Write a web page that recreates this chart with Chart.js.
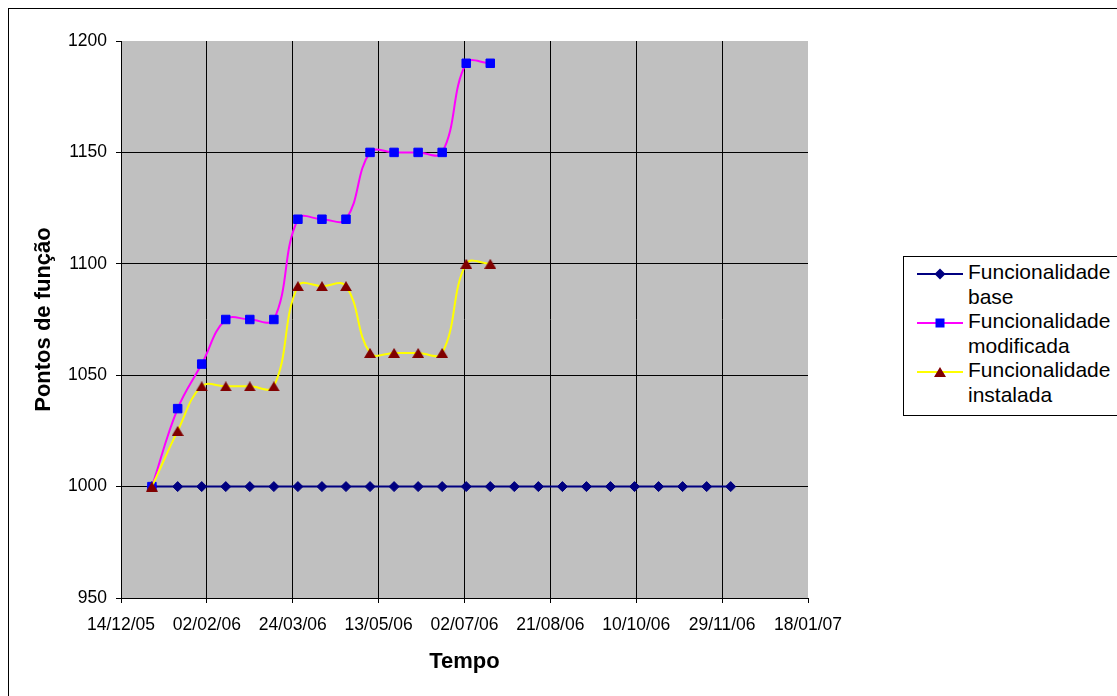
<!DOCTYPE html>
<html>
<head>
<meta charset="utf-8">
<title>Pontos de função</title>
<script src="https://cdn.jsdelivr.net/npm/chart.js@4.4.1/dist/chart.umd.min.js"></script>
<style>
  html, body { margin: 0; padding: 0; background: #fff; overflow: hidden; }
  #wrap { position: relative; width: 1117px; height: 696px; overflow: hidden; }
  #frame { position: absolute; left: 8px; top: 8px; width: 1200px; height: 760px; border: 1px solid #000; }
  #chart { position: absolute; left: 0; top: 0; }
  #legend { position: absolute; left: 903px; top: 256px; width: 300px; height: 158px;
            border: 1px solid #000; background: #fff;
            font-family: "Liberation Sans", Arial, sans-serif; font-size: 21px; color: #000; }
  #legend .item { position: absolute; left: 0; width: 300px; height: 49px; }
  #legend svg { position: absolute; left: 12px; top: 4px; }
  #legend .txt { position: absolute; left: 64px; top: 0; width: 148px; line-height: 24.5px; }
</style>
</head>
<body>
<div id="wrap">
  <div id="frame"></div>
  <canvas id="chart" width="1117" height="696"></canvas>
  <div id="legend"></div>
</div>
<script>
// Measurement dates (dd/mm/yy)
const dates = ['01/01/06', '16/01/06', '30/01/06', '13/02/06', '27/02/06', '13/03/06', '27/03/06',
               '10/04/06', '24/04/06', '08/05/06', '22/05/06', '05/06/06', '19/06/06', '03/07/06',
               '17/07/06', '31/07/06', '14/08/06', '28/08/06', '11/09/06', '25/09/06', '09/10/06',
               '23/10/06', '06/11/06', '20/11/06', '04/12/06'];

// Function points per series
const funcBase = [1000, 1000, 1000, 1000, 1000, 1000, 1000, 1000, 1000, 1000, 1000, 1000, 1000,
                  1000, 1000, 1000, 1000, 1000, 1000, 1000, 1000, 1000, 1000, 1000, 1000];
const funcModificada = [1000, 1035, 1055, 1075, 1075, 1075, 1120, 1120, 1120, 1150, 1150, 1150, 1150, 1190, 1190];
const funcInstalada  = [1000, 1025, 1045, 1045, 1045, 1045, 1090, 1090, 1090, 1060, 1060, 1060, 1060, 1100, 1100];

const seriesNames = ['Funcionalidade base', 'Funcionalidade modificada', 'Funcionalidade instalada'];

// Axis ranges and tick steps
const xRange = ['14/12/05', '18/01/07'];
const xStepDays = 50;
const yRange = [950, 1200];
const yStep = 50;

const axisTitles = { x: 'Tempo', y: 'Pontos de função' };

const DAY_MS = 86400000;
function toDay(s) {
  const [d, m, y] = s.split('/').map(Number);
  return Date.UTC(2000 + y, m - 1, d) / DAY_MS;
}
function fmtDay(v) {
  const dt = new Date(Math.round(v) * DAY_MS);
  const p = n => String(n).padStart(2, '0');
  return p(dt.getUTCDate()) + '/' + p(dt.getUTCMonth() + 1) + '/' + p(dt.getUTCFullYear() % 100);
}
const xMin = toDay(xRange[0]);
const xMax = toDay(xRange[1]);

function points(values) {
  return values.map((v, i) => ({ x: toDay(dates[i]), y: v }));
}

// Triangle marker sitting centred in its own box
function triangleMarker(w, h, color) {
  const c = document.createElement('canvas');
  c.width = w; c.height = h;
  const g = c.getContext('2d');
  g.fillStyle = color;
  g.beginPath();
  g.moveTo(0, h); g.lineTo(w / 2, 0); g.lineTo(w, h); g.closePath();
  g.fill();
  return c;
}

const styles = [
  { line: '#000080', fill: '#000080', shape: 'rectRot', radius: 5 },
  { line: '#FF00FF', fill: '#0000FF', shape: 'rect', radius: 6 },
  { line: '#FFFF00', fill: '#800000', shape: triangleMarker(12, 10, '#800000'), radius: 6 }
];

const seriesValues = [funcBase, funcModificada, funcInstalada];

const datasets = seriesValues.map((vals, i) => ({
  label: seriesNames[i],
  data: points(vals),
  borderColor: styles[i].line,
  borderWidth: 2,
  backgroundColor: styles[i].fill,
  pointStyle: styles[i].shape,
  pointRadius: styles[i].radius,
  pointBorderWidth: 1,
  pointBorderColor: styles[i].fill,
  pointBackgroundColor: styles[i].fill,
  fill: false,
  tension: 0.4,
  order: 3 - i
}));

const plotBackground = {
  id: 'plotBackground',
  beforeDraw(chart) {
    const { ctx, chartArea: a } = chart;
    ctx.save();
    ctx.fillStyle = '#C0C0C0';
    ctx.fillRect(a.left, a.top, a.right - a.left, a.bottom - a.top);
    ctx.restore();
  }
};

const FONT = '"Liberation Sans", Arial, sans-serif';

new Chart(document.getElementById('chart'), {
  type: 'line',
  data: { datasets },
  plugins: [plotBackground],
  options: {
    responsive: false,
    animation: false,
    devicePixelRatio: 1,
    events: [],
    layout: { padding: { top: 41, right: 309, left: 0, bottom: 0 } },
    plugins: { legend: { display: false }, tooltip: { enabled: false } },
    scales: {
      x: {
        type: 'linear',
        min: xMin,
        max: xMax,
        afterFit(scale) { scale.height = 98; },
        grid: {
          color: c => (c.tick && c.tick.value === xMax) ? 'rgba(0,0,0,0)' : '#000',
          tickColor: '#000',
          lineWidth: 1,
          tickLength: 5
        },
        border: { display: true, color: '#000', width: 1 },
        ticks: {
          stepSize: xStepDays,
          autoSkip: false,
          maxRotation: 0,
          padding: 12,
          color: '#000',
          font: { family: FONT, size: 17.5 },
          callback: v => fmtDay(v)
        },
        title: {
          display: true,
          text: axisTitles.x,
          color: '#000',
          font: { family: FONT, size: 22, weight: 'bold' },
          padding: { top: 0, bottom: 21 }
        }
      },
      y: {
        min: yRange[0],
        max: yRange[1],
        afterFit(scale) { scale.width = 121; },
        grid: {
          color: c => (c.tick && c.tick.value === yRange[1]) ? 'rgba(0,0,0,0)' : '#000',
          tickColor: '#000',
          lineWidth: 1,
          tickLength: 5
        },
        border: { display: true, color: '#000', width: 1 },
        ticks: {
          stepSize: yStep,
          padding: 9,
          color: '#000',
          font: { family: FONT, size: 17.5 },
          callback: v => String(v)
        },
        title: {
          display: true,
          text: axisTitles.y,
          color: '#000',
          font: { family: FONT, size: 22, weight: 'bold' },
          padding: { top: 31, bottom: 0 }
        }
      }
    }
  }
});

// Legend with wrapped series names
const legend = document.getElementById('legend');
const SVGNS = 'http://www.w3.org/2000/svg';
seriesNames.forEach((name, i) => {
  const item = document.createElement('div');
  item.className = 'item';
  item.style.top = (3 + 49 * i) + 'px';
  const svg = document.createElementNS(SVGNS, 'svg');
  svg.setAttribute('width', '50');
  svg.setAttribute('height', '20');
  const ln = document.createElementNS(SVGNS, 'line');
  ln.setAttribute('x1', '1'); ln.setAttribute('x2', '47');
  ln.setAttribute('y1', '10'); ln.setAttribute('y2', '10');
  ln.setAttribute('stroke', styles[i].line); ln.setAttribute('stroke-width', '2');
  svg.appendChild(ln);
  let mk;
  if (i === 0) {
    mk = document.createElementNS(SVGNS, 'polygon');
    mk.setAttribute('points', '24,4.5 29.5,10 24,15.5 18.5,10');
  } else if (i === 1) {
    mk = document.createElementNS(SVGNS, 'rect');
    mk.setAttribute('x', '19.5'); mk.setAttribute('y', '5.5');
    mk.setAttribute('width', '9'); mk.setAttribute('height', '9');
  } else {
    mk = document.createElementNS(SVGNS, 'polygon');
    mk.setAttribute('points', '18,15 24,5 30,15');
  }
  mk.setAttribute('fill', styles[i].fill);
  svg.appendChild(mk);
  item.appendChild(svg);
  const txt = document.createElement('div');
  txt.className = 'txt';
  txt.textContent = name;
  item.appendChild(txt);
  legend.appendChild(item);
});
</script>
</body>
</html>
